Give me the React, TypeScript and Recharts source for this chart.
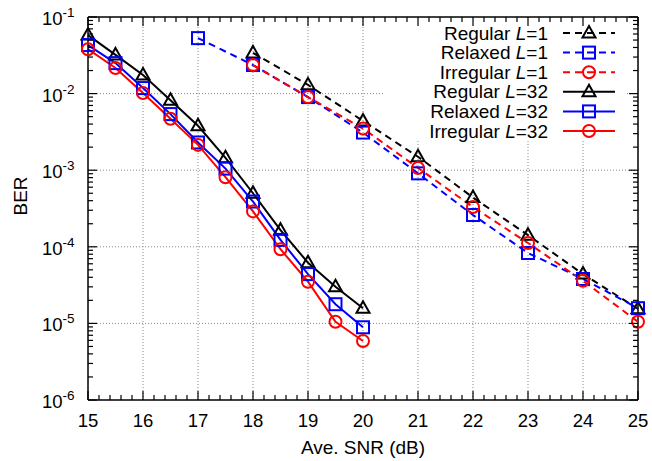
import { LineChart, Line, XAxis, YAxis, ReferenceLine, Legend } from "recharts";

// SNR points (dB)
const SNR_L32 = [15, 15.5, 16, 16.5, 17, 17.5, 18, 18.5, 19, 19.5, 20];
const SNR_L1 = [18, 19, 20, 21, 22, 23, 24, 25];
const SNR_L1_RELAXED = [17, 18, 19, 20, 21, 22, 23, 24, 25];

// BER values
const REGULAR_L1 = [0.034, 0.013, 0.0044, 0.0015, 4.4e-4, 1.42e-4, 4.4e-5, 1.55e-5];
const RELAXED_L1 = [0.053, 0.0236, 0.009, 0.0031, 9.1e-4, 2.6e-4, 8.3e-5, 3.8e-5, 1.58e-5];
const IRREGULAR_L1 = [0.0236, 0.009, 0.0035, 1.07e-3, 3.3e-4, 1.12e-4, 3.6e-5, 1.05e-5];
const REGULAR_L32 = [0.058, 0.032, 0.0175, 0.0082, 0.0038, 0.00145, 5.0e-4, 1.65e-4, 6.2e-5, 3.0e-5, 1.58e-5];
const RELAXED_L32 = [0.043, 0.025, 0.0118, 0.0054, 0.0023, 0.00105, 3.9e-4, 1.23e-4, 4.4e-5, 1.78e-5, 8.9e-6];
const IRREGULAR_L32 = [0.038, 0.0216, 0.0102, 0.0047, 0.00214, 8.1e-4, 2.9e-4, 9.3e-5, 3.5e-5, 1.05e-5, 5.9e-6];

// axis ticks
const X_MAJOR = [15, 16, 17, 18, 19, 20, 21, 22, 23, 24, 25];
const Y_MAJOR = [1e-6, 1e-5, 1e-4, 1e-3, 1e-2, 1e-1];
const X_GRID_FULL = [16, 17, 18, 19, 20];
const X_GRID_SHORT = [21, 22, 23, 24];
const Y_GRID = [1e-5, 1e-4, 1e-3];

const FONT = "'Liberation Sans', Arial, Helvetica, sans-serif";
const PLOT_W = 550;
const PLOT_H = 383;
const GRID = "#8a8a8a";

// minor ticks: every 0.2 dB on x, 2..9 per decade on y
const X_TICKS: number[] = [];
X_MAJOR.forEach((m, i) => {
  if (i === X_MAJOR.length - 1) return X_TICKS.push(m);
  for (let k = 0; k < 5; k++) X_TICKS.push(Math.round((m + k * 0.2) * 10) / 10);
});
const Y_TICKS: number[] = [];
Y_MAJOR.forEach((m, i) => {
  Y_TICKS.push(m);
  if (i < Y_MAJOR.length - 1) for (let k = 2; k <= 9; k++) Y_TICKS.push(m * k);
});

const zip = (xs: number[], ys: number[]) => xs.map((snr, i) => ({ snr, ber: ys[i] }));

type Marker = "tri" | "sq" | "circ";

function markerShape(kind: Marker, cx: number, cy: number, color: string, key?: string) {
  if (kind === "tri")
    return (
      <path key={key} d={`M${cx},${cy - 7} L${cx + 6.5},${cy + 4.5} L${cx - 6.5},${cy + 4.5} Z`}
        fill="none" stroke={color} strokeWidth={2} />
    );
  if (kind === "sq")
    return <rect key={key} x={cx - 6} y={cy - 6} width={12} height={12} fill="none" stroke={color} strokeWidth={2} />;
  return <circle key={key} cx={cx} cy={cy} r={6} fill="none" stroke={color} strokeWidth={2} />;
}

const SERIES = [
  { name: "Regular", L: "1", data: zip(SNR_L1, REGULAR_L1), color: "#000000", marker: "tri" as Marker, dash: "7 5" },
  { name: "Relaxed", L: "1", data: zip(SNR_L1_RELAXED, RELAXED_L1), color: "#0000ff", marker: "sq" as Marker, dash: "7 5" },
  { name: "Irregular", L: "1", data: zip(SNR_L1, IRREGULAR_L1), color: "#ff0000", marker: "circ" as Marker, dash: "7 5" },
  { name: "Regular", L: "32", data: zip(SNR_L32, REGULAR_L32), color: "#000000", marker: "tri" as Marker, dash: undefined },
  { name: "Relaxed", L: "32", data: zip(SNR_L32, RELAXED_L32), color: "#0000ff", marker: "sq" as Marker, dash: undefined },
  { name: "Irregular", L: "32", data: zip(SNR_L32, IRREGULAR_L32), color: "#ff0000", marker: "circ" as Marker, dash: undefined },
];

function XTick(props: any) {
  const { x, y, payload } = props;
  const major = Number.isInteger(payload.value);
  const len = major ? 9 : 5;
  return (
    <g>
      <line x1={x} y1={y} x2={x} y2={y - len} stroke="#000" strokeWidth={1.2} />
      <line x1={x} y1={y - PLOT_H} x2={x} y2={y - PLOT_H + len} stroke="#000" strokeWidth={1.2} />
      {major && (
        <text x={x} y={y + 27} textAnchor="middle" fontSize={18.5} fontFamily={FONT} fill="#000">
          {payload.value}
        </text>
      )}
    </g>
  );
}

function YTick(props: any) {
  const { x, y, payload } = props;
  const lg = Math.log10(payload.value);
  const major = Math.abs(lg - Math.round(lg)) < 1e-6;
  const len = major ? 9 : 5;
  return (
    <g>
      <line x1={x} y1={y} x2={x + len} y2={y} stroke="#000" strokeWidth={1.2} />
      <line x1={x + PLOT_W} y1={y} x2={x + PLOT_W - len} y2={y} stroke="#000" strokeWidth={1.2} />
      {major && (
        <text x={x - 46} y={y + 8} textAnchor="start" fontSize={18.5} fontFamily={FONT} fill="#000">
          10
          <tspan dy={-8} fontSize={13.5}>{Math.round(lg)}</tspan>
        </text>
      )}
    </g>
  );
}

function KeyBox() {
  return (
    <svg width={250} height={130} style={{ display: "block" }}>
      {SERIES.map((s, i) => {
        const cy = 16 + i * 19.6;
        return (
          <g key={i}>
            <text x={163} y={cy + 6.5} textAnchor="end" fontSize={19} fontFamily={FONT} fill="#000">
              {s.name} <tspan fontStyle="italic">L</tspan>={s.L}
            </text>
            <line x1={178} y1={cy} x2={230} y2={cy} stroke={s.color} strokeWidth={2} strokeDasharray={s.dash} />
            {markerShape(s.marker, 204, cy, s.color)}
          </g>
        );
      })}
    </svg>
  );
}

export default function App() {
  return (
    <div style={{ position: "absolute", left: 0, top: 0, width: 652, height: 461, background: "#fff" }}>
      <LineChart width={652} height={461} margin={{ top: 17, right: 14, bottom: 0, left: 8 }}>
        <XAxis
          type="number"
          dataKey="snr"
          domain={[15, 25]}
          ticks={X_TICKS}
          interval={0}
          tickLine={false}
          tickSize={0}
          tickMargin={0}
          height={61}
          axisLine={{ stroke: "#000", strokeWidth: 1.5 }}
          tick={XTick}
        />
        <YAxis
          type="number"
          scale="log"
          domain={[1e-6, 1e-1]}
          ticks={Y_TICKS}
          interval={0}
          tickLine={false}
          tickSize={0}
          tickMargin={0}
          width={80}
          axisLine={{ stroke: "#000", strokeWidth: 1.5 }}
          tick={YTick}
        />
        {X_GRID_FULL.map((v) => (
          <ReferenceLine key={`gx${v}`} x={v} stroke={GRID} strokeDasharray="1 2" />
        ))}
        {X_GRID_SHORT.map((v) => (
          <ReferenceLine key={`gs${v}`} segment={[{ x: v, y: 1e-6 }, { x: v, y: 0.0024 }]} stroke={GRID} strokeDasharray="1 2" />
        ))}
        {Y_GRID.map((v) => (
          <ReferenceLine key={`gy${v}`} y={v} stroke={GRID} strokeDasharray="1 2" />
        ))}
        <ReferenceLine segment={[{ x: 15, y: 1e-2 }, { x: 20.4, y: 1e-2 }]} stroke={GRID} strokeDasharray="1 2" />
        <ReferenceLine segment={[{ x: 24.8, y: 1e-2 }, { x: 25, y: 1e-2 }]} stroke={GRID} strokeDasharray="1 2" />
        <ReferenceLine y={1e-1} stroke="#000" strokeWidth={1.5} />
        <ReferenceLine x={25} stroke="#000" strokeWidth={1.5} />
        {SERIES.map((s, i) => (
          <Line
            key={i}
            data={s.data}
            dataKey="ber"
            type="linear"
            stroke={s.color}
            strokeWidth={2}
            strokeDasharray={s.dash}
            isAnimationActive={false}
            dot={(p: any) => markerShape(s.marker, p.cx, p.cy, s.color, `m${i}-${p.index}`)}
            legendType="none"
          />
        ))}
        <Legend
          layout="vertical"
          align="center"
          verticalAlign="middle"
          content={() => <KeyBox />}
          wrapperStyle={{ left: 385, top: 17, width: 250, height: 130 }}
        />
        <text x={20} y={196} transform="rotate(-90 20 196)" textAnchor="middle" dominantBaseline="central"
          fontSize={19} fontFamily={FONT} fill="#000">
          BER
        </text>
        <text x={363} y={454} textAnchor="middle" fontSize={19} fontFamily={FONT} fill="#000">
          Ave. SNR (dB)
        </text>
      </LineChart>
    </div>
  );
}
